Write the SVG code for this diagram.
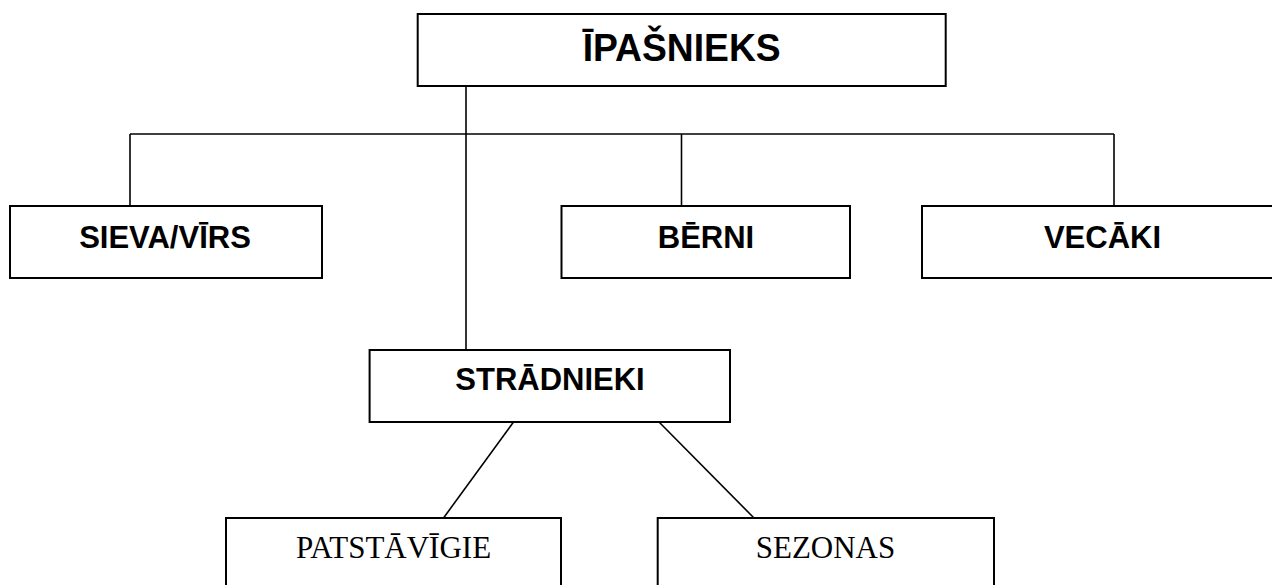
<svg xmlns="http://www.w3.org/2000/svg" width="1272" height="585" viewBox="0 0 1272 585">
<style>
.box{fill:#fff;stroke:#000;stroke-width:2}
.b{font-family:"Liberation Sans",Arial,sans-serif;font-weight:bold;font-size:31px;text-anchor:middle;fill:#000}
.r{font-family:"Liberation Serif","Times New Roman",serif;font-size:31px;text-anchor:middle;fill:#000}
.c{fill:none;stroke:#000;stroke-width:1.6}
</style>
<rect width="1272" height="585" fill="#fff"/>
<g id="connectors">
<line class="c" x1="466" y1="86" x2="466" y2="350"/>
<line class="c" x1="130" y1="134" x2="1114" y2="134"/>
<line class="c" x1="130" y1="134" x2="130" y2="206"/>
<line class="c" x1="681.5" y1="134" x2="681.5" y2="206"/>
<line class="c" x1="1114" y1="134" x2="1114" y2="206"/>
<line class="c" x1="513.5" y1="422" x2="443.5" y2="518"/>
<line class="c" x1="659" y1="422" x2="754" y2="518"/>
</g>
<g id="ipasnieks">
<rect class="box" x="417.7" y="14" width="528" height="72"/>
<text class="b" x="681.7" y="61" style="font-size:38.5px" textLength="198" lengthAdjust="spacingAndGlyphs">ĪPAŠNIEKS</text>
</g>
<g id="sieva">
<rect class="box" x="10" y="206" width="312" height="72"/>
<text class="b" x="165" y="247.5">SIEVA/VĪRS</text>
</g>
<g id="berni">
<rect class="box" x="561.5" y="206" width="288.5" height="72"/>
<text class="b" x="706" y="247.5">BĒRNI</text>
</g>
<g id="vecaki">
<rect class="box" x="922" y="206" width="361" height="72"/>
<text class="b" x="1102.5" y="247.5">VECĀKI</text>
</g>
<g id="stradnieki">
<rect class="box" x="369.6" y="350" width="360.4" height="72"/>
<text class="b" x="550" y="389.5">STRĀDNIEKI</text>
</g>
<g id="patstavigie">
<rect class="box" x="226" y="518" width="335" height="82"/>
<text class="r" x="393.5" y="557.5">PATSTĀVĪGIE</text>
</g>
<g id="sezonas">
<rect class="box" x="657.7" y="518" width="336.3" height="82"/>
<text class="r" x="825.5" y="558">SEZONAS</text>
</g>
</svg>
